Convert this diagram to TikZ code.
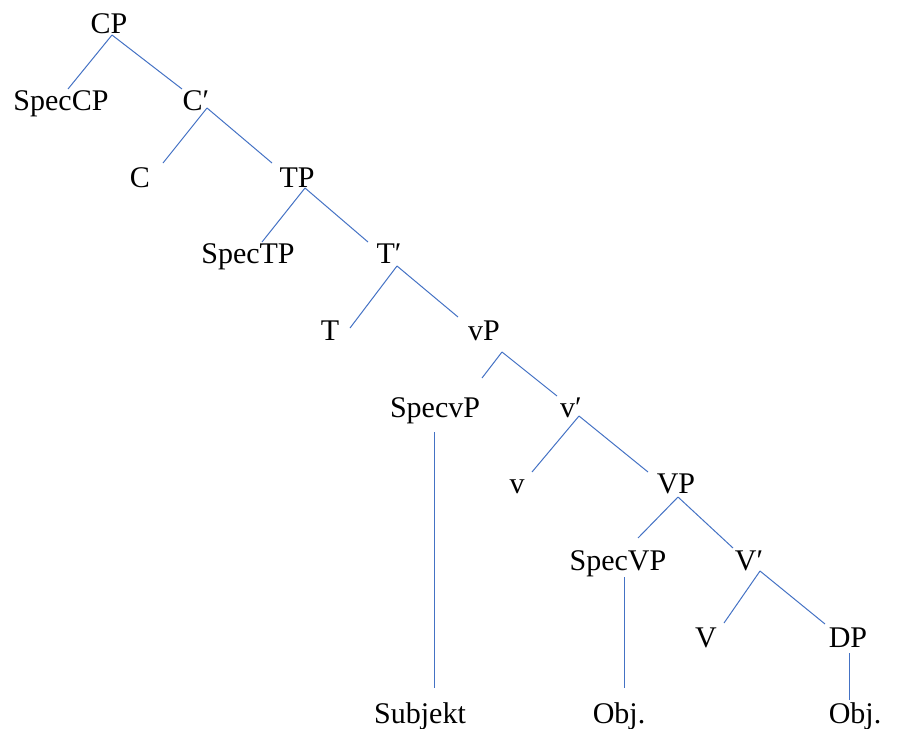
\documentclass[tikz,border=0pt]{standalone}
\usepackage{fontspec}
\setmainfont{Liberation Serif}
\usepackage{tikz}

\newcommand{\branch}[4]{\draw[branch] ([shift={(#2)}]#1.base) -- ([shift={(#4)}]#3.base);}

\begin{document}
\begin{tikzpicture}[x=1pt,y=-1pt,
	cat/.style={anchor=base,inner sep=0pt,font=\fontsize{30}{36}\selectfont},
	branch/.style={draw={rgb,255:red,68;green,114;blue,196},line width=1pt}
]

	\useasboundingbox (0,0) rectangle (901,728);

	\node[cat] (CP) at (109,33) {CP};
	\node[cat] (SpecCP) at (61,110) {SpecCP};
	\node[cat] (Cbar) at (196,110) {C′};
	\node[cat] (C) at (140,187) {C};
	\node[cat] (TP) at (297,187) {TP};
	\node[cat] (SpecTP) at (248,263) {SpecTP};
	\node[cat] (Tbar) at (389,263) {T′};
	\node[cat] (T) at (330,340) {T};
	\node[cat] (vP) at (484,340) {vP};
	\node[cat] (SpecvP) at (435,417) {SpecvP};
	\node[cat] (vbar) at (571,417) {v′};
	\node[cat] (v) at (517,493) {v};
	\node[cat] (VP) at (676,493) {VP};
	\node[cat] (SpecVP) at (618,570) {SpecVP};
	\node[cat] (Vbar) at (749,570) {V′};
	\node[cat] (V) at (706,647) {V};
	\node[cat] (DP) at (848,647) {DP};
	\node[cat] (Subj) at (420,723) {Subjekt};
	\node[cat] (ObjA) at (619,723) {Obj.};
	\node[cat] (ObjB) at (855,723) {Obj.};

	\branch{CP}{3,2}{SpecCP}{7,-21}
	\branch{CP}{3,2}{Cbar}{-14,-21}
	\branch{Cbar}{11,-2}{C}{23,-24}
	\branch{Cbar}{11,-2}{TP}{-25,-24}
	\branch{TP}{8,1}{SpecTP}{14,-21}
	\branch{TP}{8,1}{Tbar}{-21,-21}
	\branch{Tbar}{8,3}{T}{20,-12}
	\branch{Tbar}{8,3}{vP}{-26,-23}
	\branch{vP}{18,12}{SpecvP}{47,-39}
	\branch{vP}{18,12}{vbar}{-14,-21}
	\branch{vbar}{8,-1}{v}{15,-21}
	\branch{vbar}{8,-1}{VP}{-28,-21}
	\branch{VP}{2,4}{SpecVP}{20,-32}
	\branch{VP}{2,4}{Vbar}{-16,-22}
	\branch{Vbar}{11,1}{V}{18,-24}
	\branch{Vbar}{11,1}{DP}{-23,-23}
	\branch{SpecvP}{-1,15}{Subj}{14,-35}
	\branch{SpecVP}{6,7}{ObjA}{5,-35}
	\branch{DP}{1,6}{ObjB}{-6,-23}
\end{tikzpicture}
\end{document}
